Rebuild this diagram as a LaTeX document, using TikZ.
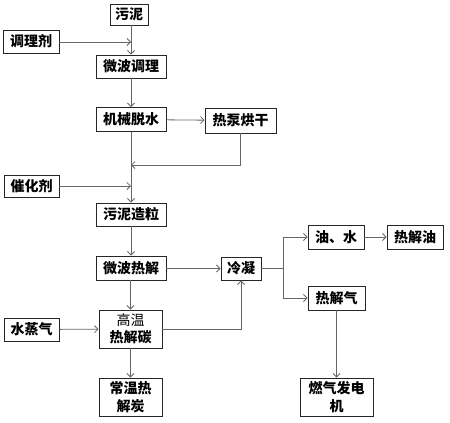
\documentclass[tikz,border=0pt]{standalone}
\usepackage{fontspec}
\setmainfont{Noto Sans CJK SC}
\usetikzlibrary{arrows.meta}
\begin{document}
\begin{tikzpicture}[x=1pt,y=-1pt,
  box/.style={draw=black!85,line width=0.9pt,inner sep=0pt,font=\fontsize{14}{17.5}\selectfont\bfseries,align=center},
  conn/.style={draw=black!60,line width=0.8pt,-{Straight Barb[length=3.5pt,width=7pt]}},
  plain/.style={draw=black!60,line width=0.8pt}]
\useasboundingbox (0,0) rectangle (450,423);
\fill[white] (0,0) rectangle (450,423);
\node[box,minimum width=38pt,minimum height=21pt] (wn) at (129,14.5) {污泥};
\node[box,minimum width=56pt,minimum height=23pt] (tlj) at (31,41.5) {调理剂};
\node[box,minimum width=70pt,minimum height=23pt] (wbtl) at (131,66.5) {微波调理};
\node[box,minimum width=70pt,minimum height=24pt] (jxts) at (131,119.5) {机械脱水};
\node[box,minimum width=71pt,minimum height=25pt] (rbhg) at (240.5,120.5) {热泵烘干};
\node[box,minimum width=55pt,minimum height=22pt] (chj) at (31.5,186) {催化剂};
\node[box,minimum width=70pt,minimum height=23pt] (wnzl) at (131,214.5) {污泥造粒};
\node[box,minimum width=70pt,minimum height=24pt] (wbrj) at (131,268) {微波热解};
\node[box,minimum width=40pt,minimum height=23pt] (ln) at (241,268.5) {冷凝};
\node[box,minimum width=63pt,minimum height=38pt] (gw) at (130.5,329) {{\mdseries 高温}\\热解碳};
\node[box,minimum width=55pt,minimum height=23pt] (szq) at (31.5,329.5) {水蒸气};
\node[box,minimum width=63pt,minimum height=38pt] (cw) at (130.5,397) {常温热\\解炭};
\node[box,minimum width=56pt,minimum height=24pt] (ys) at (336,237) {油、水};
\node[box,minimum width=56pt,minimum height=24pt] (rjy) at (415,237) {热解油};
\node[box,minimum width=57pt,minimum height=24pt] (rjq) at (336.5,298) {热解气};
\node[box,minimum width=73pt,minimum height=38pt] (rq) at (336.5,397) {燃气发电\\机};
\coordinate (j0) at (131,42);
\coordinate (j1) at (131,165);
\coordinate (j2) at (131,186);
\coordinate (br) at (283,268.5);
\draw[conn] (wn.south -| wbtl.north) -- (wbtl.north);
\draw[conn] (tlj.east |- j0) -- (j0);
\draw[conn] (wbtl) -- (jxts);
\draw[conn] (jxts) -- (rbhg);
\draw[conn] (jxts) -- (wnzl);
\draw[conn] (rbhg.south) |- (j1);
\draw[conn] (chj.east |- j2) -- (j2);
\draw[conn] (wnzl) -- (wbrj);
\draw[conn] (wbrj.east |- ln.west) -- (ln.west);
\draw[conn] (wbrj.south -| gw.north) -- (gw.north);
\draw[conn] (szq) -- (gw);
\draw[conn] (gw.east) -| (ln.south);
\draw[conn] (gw) -- (cw);
\draw[plain] (ln.east) -- (br);
\draw[conn] (br) |- (ys.west);
\draw[conn] (br) |- (rjq.west);
\draw[conn] (ys) -- (rjy);
\draw[conn] (rjq) -- (rq);
\end{tikzpicture}
\end{document}
